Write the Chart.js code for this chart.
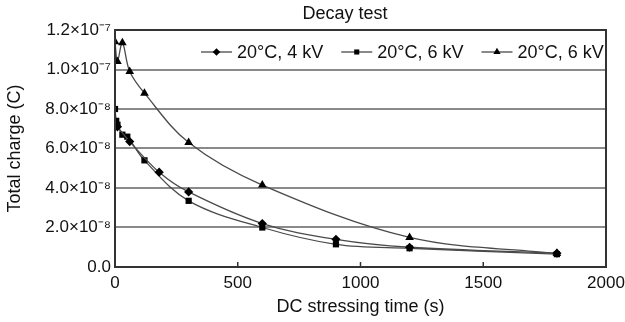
<!DOCTYPE html>
<html>
<head>
<meta charset="utf-8">
<script src="https://cdn.jsdelivr.net/npm/chart.js@4.4.1/dist/chart.umd.min.js"></script>
<style>
  html, body { margin: 0; padding: 0; background: #fff; }
  canvas { display: block; }
</style>
</head>
<body>
<canvas id="chartDecay" width="625" height="322"></canvas>
<script>
// values, charge in units of 1e-8 C
const time4kV = [0, 10, 60, 180, 300, 600, 900, 1200, 1800];
const charge4kV = [7.3, 7.1, 6.35, 4.8, 3.8, 2.2, 1.4, 1.0, 0.7];

const time6kV = [0, 5, 10, 30, 50, 120, 300, 600, 900, 1200, 1800];
const charge6kV = [8.0, 7.4, 7.2, 6.7, 6.6, 5.4, 3.35, 2.0, 1.15, 0.95, 0.65];

const time6kVb = [0, 10, 30, 60, 120, 300, 600, 1200, 1800];
const charge6kVb = [11.4, 10.4, 11.35, 9.9, 8.8, 6.3, 4.15, 1.5, 0.68];

const seriesLabels = ['20°C, 4 kV', '20°C, 6 kV', '20°C, 6 kV'];
const yTickLabels = ['0.0', '2.0×10⁻⁸', '4.0×10⁻⁸', '6.0×10⁻⁸', '8.0×10⁻⁸', '1.0×10⁻⁷', '1.2×10⁻⁷'];
const xTicks = [0, 500, 1000, 1500, 2000];

const FONT = '"Liberation Sans", Arial, sans-serif';
const LINE = '#4a4a4a';

function pts(t, q) { return t.map((x, i) => ({ x, y: q[i] * 1e-8 })); }

function ds(label, t, q, style, r) {
  return {
    label, data: pts(t, q), showLine: true, tension: 0.35,
    borderColor: LINE, borderWidth: 1.3,
    pointStyle: style, pointRadius: r, pointHoverRadius: r,
    pointBackgroundColor: '#000', pointBorderColor: '#000', pointBorderWidth: 0
  };
}

const frame = {
  id: 'frame',
  afterDatasetsDraw(chart) {
    const { ctx, chartArea: a, scales } = chart;
    ctx.save();
    // inside tick marks on the x axis
    ctx.strokeStyle = '#333'; ctx.lineWidth = 1.5;
    xTicks.slice(1, -1).forEach(v => {
      const x = scales.x.getPixelForValue(v);
      ctx.beginPath(); ctx.moveTo(x, a.bottom); ctx.lineTo(x, a.bottom - 5); ctx.stroke();
    });
    ctx.lineWidth = 2; ctx.strokeStyle = '#333';
    ctx.strokeRect(a.left, a.top, a.right - a.left, a.bottom - a.top);

    // title
    ctx.fillStyle = '#111';
    ctx.font = '18px ' + FONT;
    ctx.textAlign = 'center'; ctx.textBaseline = 'middle';
    ctx.fillText('Decay test', 345, 14);

    // legend inside plot
    const y = a.top + 22;
    let x = 201;
    ctx.textAlign = 'left';
    chart.data.datasets.forEach(d => {
      ctx.strokeStyle = LINE; ctx.lineWidth = 1.3;
      ctx.beginPath(); ctx.moveTo(x, y); ctx.lineTo(x + 31, y); ctx.stroke();
      ctx.fillStyle = '#000';
      Chart.helpers.drawPoint(ctx, { pointStyle: d.pointStyle, radius: d.pointRadius - 0.8, borderWidth: 0 }, x + 15.5, y);
      ctx.fillStyle = '#111';
      ctx.fillText(d.label, x + 36, y + 1);
      x += 36 + ctx.measureText(d.label).width + 18;
    });
    ctx.restore();
  }
};

new Chart(document.getElementById('chartDecay').getContext('2d'), {
  type: 'scatter',
  data: {
    datasets: [
      ds(seriesLabels[0], time4kV, charge4kV, 'rectRot', 4.6),
      ds(seriesLabels[1], time6kV, charge6kV, 'rect', 4.4),
      ds(seriesLabels[2], time6kVb, charge6kVb, 'triangle', 5)
    ]
  },
  options: {
    responsive: false,
    animation: false,
    layout: { padding: { top: 30, right: 19, left: 0, bottom: 0 } },
    plugins: { legend: { display: false }, tooltip: { enabled: false } },
    scales: {
      x: {
        type: 'linear', min: 0, max: 2000,
        afterBuildTicks: s => { s.ticks = xTicks.map(v => ({ value: v })); },
        afterFit: s => { s.height = 55; s.paddingRight = 0; s.paddingLeft = 0; },
        grid: { display: false, drawTicks: false },
        border: { display: false },
        ticks: { color: '#111', font: { size: 17, family: FONT }, padding: 6, maxRotation: 0, callback: v => String(v) },
        title: { display: true, text: 'DC stressing time (s)', color: '#111', font: { size: 18, family: FONT }, padding: { top: 4 } }
      },
      y: {
        min: 0, max: 1.2e-7,
        afterBuildTicks: s => { s.ticks = yTickLabels.map((_, i) => ({ value: i * 2e-8 })); },
        afterFit: s => { s.width = 115; s.paddingTop = 0; s.paddingBottom = 0; },
        grid: { color: '#8a8a8a', lineWidth: 2, drawTicks: false },
        border: { display: false },
        ticks: {
          color: '#111', font: { size: 17, family: FONT }, padding: 4,
          callback: (v, i) => yTickLabels[i]
        },
        title: { display: true, text: 'Total charge (C)', color: '#111', font: { size: 18, family: FONT }, padding: { bottom: 2 } }
      }
    }
  },
  plugins: [frame]
});
</script>
</body>
</html>
